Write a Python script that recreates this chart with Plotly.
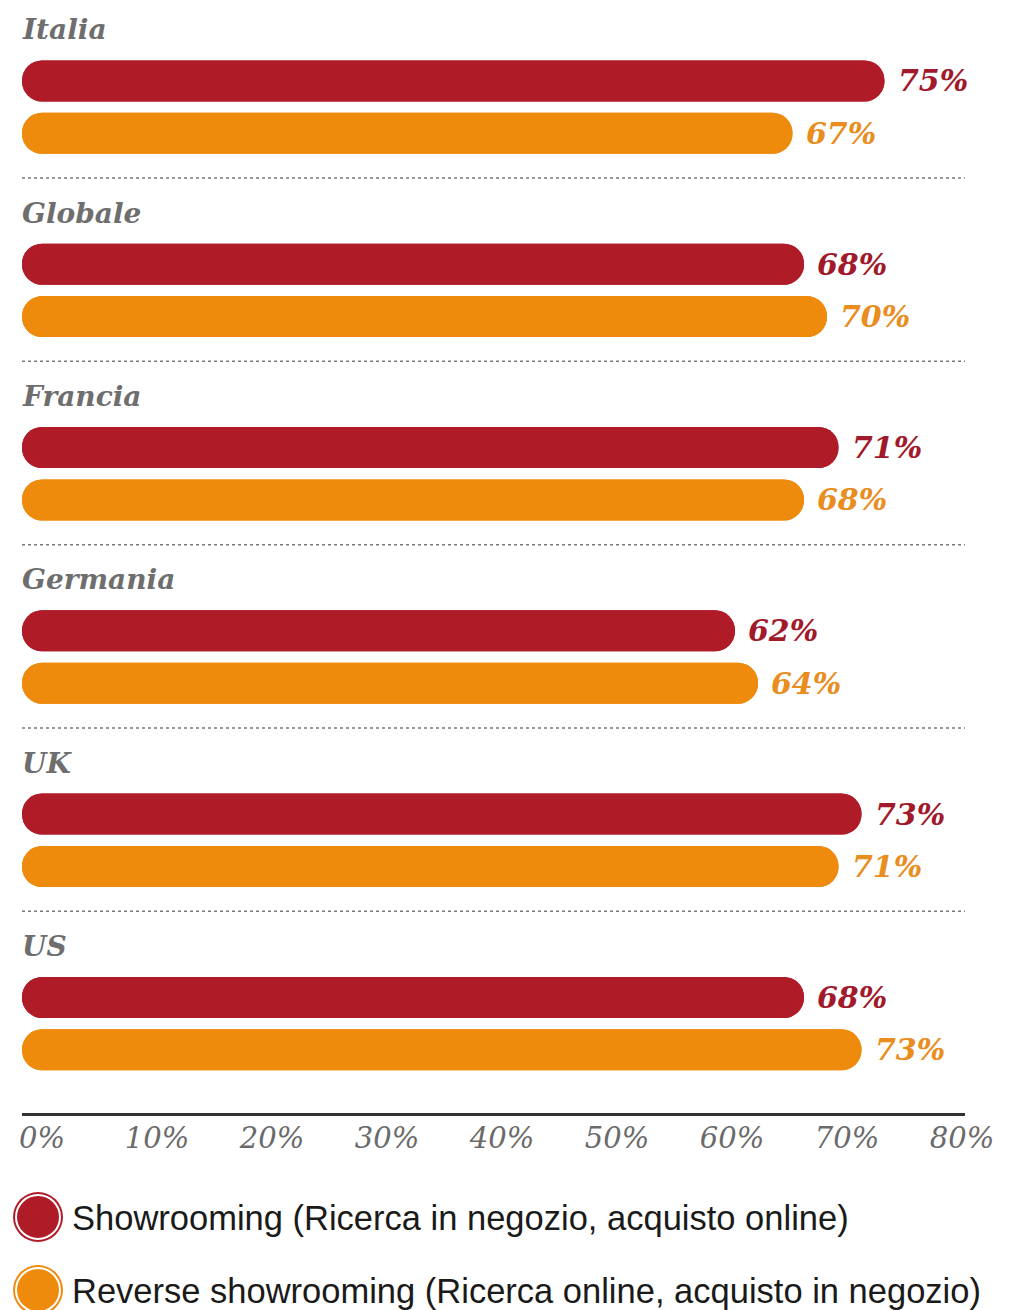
import plotly.graph_objects as go

# ---- data ----
countries = ["Italia", "Globale", "Francia", "Germania", "UK", "US"]
showrooming = [75, 68, 71, 62, 73, 68]
reverse_showrooming = [67, 70, 68, 64, 71, 73]
series_names = [
    "Showrooming (Ricerca in negozio, acquisto online)",
    "Reverse showrooming (Ricerca online, acquisto in negozio)",
]
bar_colors = ["#B01B28", "#EE8A0C"]
value_colors = ["#A11A2C", "#E88D1E"]
x_ticks = [0, 10, 20, 30, 40, 50, 60, 70, 80]

# ---- page geometry (pixels) ----
W, H = 1014, 1310
PLOT_LEFT, PLOT_RIGHT = 22, 965
AXIS_Y = 1113              # y of the horizontal axis line
SLOT_PX = 183.3            # height of one country block
FIRST_CENTER_PX = 86.4     # centre of the first block
PX_PER_PCT = 11.5

BAR_W = 41 / SLOT_PX
ROW_OFFSETS = [-0.030, 0.256]   # centre of each series row inside a block
LABEL_OFFSET = -0.308

y_top = -FIRST_CENTER_PX / SLOT_PX
y_bottom = (AXIS_Y - FIRST_CENTER_PX) / SLOT_PX
x_max = (PLOT_RIGHT - PLOT_LEFT) / PX_PER_PCT

fig = go.Figure()

series = [showrooming, reverse_showrooming]
for values, color, off in zip(series, bar_colors, ROW_OFFSETS):
    common = dict(
        y=countries, orientation="h", width=BAR_W, offset=off - BAR_W / 2,
        marker=dict(color=color, line=dict(width=0), cornerradius="50%"),
        showlegend=False, hoverinfo="skip",
    )
    # bar growing right from zero (rounded right end)
    fig.add_trace(go.Bar(x=values, base=[0] * len(values), **common))
    # same bar drawn leftwards from its end (rounded left end)
    fig.add_trace(go.Bar(x=[-v for v in values], base=values, **common))

annotations = []
for values, tcolor, off in zip(series, value_colors, ROW_OFFSETS):
    for i, v in enumerate(values):
        annotations.append(dict(
            x=v, y=i + off, xref="x", yref="y", text=f"{v}%",
            xanchor="left", yanchor="middle", xshift=11, showarrow=False,
            font=dict(family="DejaVu Serif", size=30, color=tcolor,
                      weight="bold", style="italic"),
        ))
for i, name in enumerate(countries):
    annotations.append(dict(
        x=0, y=i + LABEL_OFFSET, xref="paper", yref="y", text=name,
        xanchor="left", yanchor="middle", xshift=-2, showarrow=False,
        font=dict(family="DejaVu Serif", size=28, color="#6E6E6E",
                  weight="bold", style="italic"),
    ))

# dotted separators between country blocks
shapes = []
for i in range(len(countries) - 1):
    shapes.append(dict(
        type="line", xref="paper", yref="y", x0=0, x1=1, y0=i + 0.5, y1=i + 0.5,
        line=dict(color="#7A7A7A", width=1.5, dash="dot"), layer="below",
    ))

# legend block drawn in its own small subplot
leg_x = [16, 16]
leg_y = [0, 1]
for size, ring in [(50, 0), (44, 2)]:
    fig.add_trace(go.Scatter(
        x=leg_x, y=leg_y, xaxis="x2", yaxis="y2", mode="markers",
        marker=dict(size=size, color=bar_colors, symbol="circle",
                    line=dict(color="white", width=ring)),
        showlegend=False, hoverinfo="skip", cliponaxis=False,
    ))
fig.add_trace(go.Scatter(
    x=[50, 50], y=[v + 0.06 for v in leg_y], xaxis="x2", yaxis="y2", mode="text",
    text=series_names, textposition="middle right",
    textfont=dict(family="Liberation Sans", size=34.5, color="#1A1A1A"),
    showlegend=False, hoverinfo="skip", cliponaxis=False,
))

LEG_TOP = 1180
leg_item0 = 1217
leg_step = 73
y2_top = -(leg_item0 - LEG_TOP) / leg_step
y2_bottom = (H - leg_item0) / leg_step

fig.update_layout(
    width=W, height=H,
    margin=dict(l=PLOT_LEFT, r=W - PLOT_RIGHT, t=0, b=0),
    paper_bgcolor="white", plot_bgcolor="white",
    barmode="overlay",
    showlegend=False,
    annotations=annotations,
    shapes=shapes,
    xaxis=dict(
        range=[0, x_max], tickvals=x_ticks, ticktext=[f"{t}%" for t in x_ticks],
        showgrid=False, zeroline=False, showline=True, linecolor="#333333",
        linewidth=3, ticks="", ticklabelshift=20, ticklabelstandoff=-3,
        tickfont=dict(family="DejaVu Serif", size=29, color="#6A6A6A",
                      style="italic"),
        anchor="y", fixedrange=True,
    ),
    yaxis=dict(
        type="category", range=[y_bottom, y_top],
        domain=[(H - AXIS_Y) / H, 1],
        showgrid=False, zeroline=False, showticklabels=False, ticks="",
        fixedrange=True,
    ),
    xaxis2=dict(
        range=[0, PLOT_RIGHT - PLOT_LEFT], domain=[0, 1], anchor="y2",
        visible=False, fixedrange=True,
    ),
    yaxis2=dict(
        range=[y2_bottom, y2_top], domain=[0, (H - LEG_TOP) / H], anchor="x2",
        visible=False, fixedrange=True,
    ),
)

fig.write_html("out.html", config={"displayModeBar": False})
